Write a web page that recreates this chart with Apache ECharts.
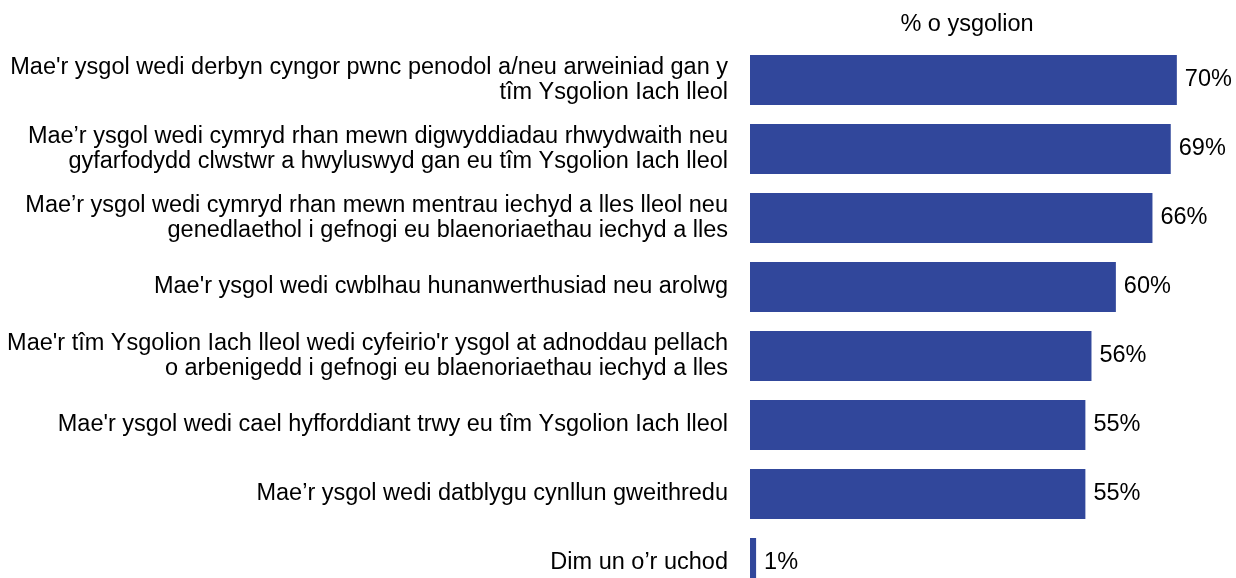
<!DOCTYPE html>
<html lang="cy">
<head>
	<meta charset="UTF-8">
	<title>% o ysgolion</title>
	<script src="https://cdn.jsdelivr.net/npm/echarts@6/dist/echarts.min.js"></script>
	<style>
		html,body{margin:0;width:100%;height:100%;background:#fff;overflow:hidden;}
		#chart{width:1236px;height:600px;}
	</style>
</head>
<body>
	<div id="chart"></div>
<script>
	var categories = [
		"Mae'r ysgol wedi derbyn cyngor pwnc penodol a/neu arweiniad gan y\ntîm Ysgolion Iach lleol",
		"Mae’r ysgol wedi cymryd rhan mewn digwyddiadau rhwydwaith neu\ngyfarfodydd clwstwr a hwyluswyd gan eu tîm Ysgolion Iach lleol",
		"Mae’r ysgol wedi cymryd rhan mewn mentrau iechyd a lles lleol neu\ngenedlaethol i gefnogi eu blaenoriaethau iechyd a lles",
		"Mae'r ysgol wedi cwblhau hunanwerthusiad neu arolwg",
		"Mae'r tîm Ysgolion Iach lleol wedi cyfeirio'r ysgol at adnoddau pellach\no arbenigedd i gefnogi eu blaenoriaethau iechyd a lles",
		"Mae'r ysgol wedi cael hyfforddiant trwy eu tîm Ysgolion Iach lleol",
		"Mae’r ysgol wedi datblygu cynllun gweithredu",
		"Dim un o’r uchod"
	];
	var values = [70, 69, 66, 60, 56, 55, 55, 1];

	var myChart = echarts.init(document.getElementById('chart'));

	// the last bar runs off the bottom edge, so the chart div is taller than the window
	var options = {
		animation: false,
		textStyle: { fontFamily: 'Liberation Sans, Arial, sans-serif' },
		title: {
			text: '% o ysgolion',
			left: 962,
			top: 8,
			textAlign: 'center',
			textStyle: { fontSize: 23.5, fontWeight: 'normal', color: '#000' }
		},
		grid: { left: 750, width: 486, top: 45.5, height: 552, containLabel: false },
		xAxis: {
			type: 'value',
			min: 0,
			max: 79.7,
			show: false
		},
		yAxis: {
			type: 'category',
			inverse: true,
			data: categories,
			axisLine: { show: false },
			axisTick: { show: false },
			axisLabel: {
				margin: 22,
				fontSize: 23.5,
				lineHeight: 25,
				color: '#000',
				align: 'right'
			}
		},
		series: [{
			type: 'bar',
			data: values,
			barWidth: 50,
			itemStyle: { color: '#31479b' },
			label: {
				show: true,
				position: 'right',
				distance: 8,
				fontSize: 23.5,
				color: '#000',
				formatter: '{c}%'
			}
		}]
	};
	myChart.setOption(options);
</script>
</body>
</html>
